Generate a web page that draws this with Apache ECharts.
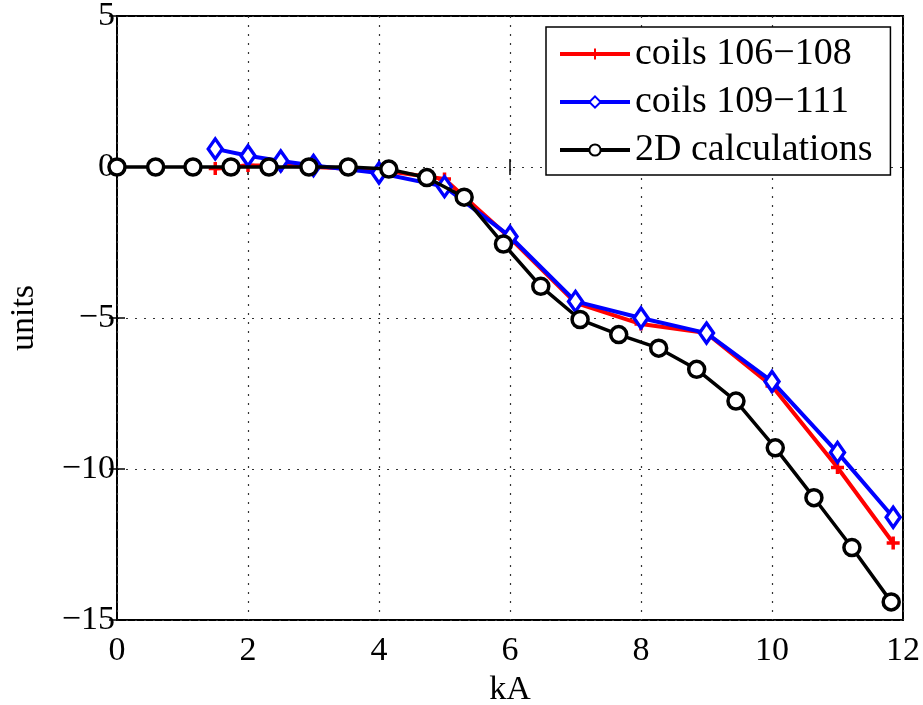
<!DOCTYPE html>
<html>
<head>
<meta charset="utf-8">
<script src="https://cdn.jsdelivr.net/npm/echarts@6/dist/echarts.min.js"></script>
<style>
  html, body { margin: 0; padding: 0; background: #fff; }
  #chart { width: 923px; height: 705px; }
</style>
</head>
<body>
<div id="chart"></div>
<script>
// values
const calcX = [0, 0.59, 1.16, 1.74, 2.32, 2.93, 3.53, 4.15, 4.73, 5.3, 5.9, 6.47, 7.07, 7.66, 8.27, 8.85, 9.45, 10.05, 10.64, 11.22, 11.82]
const calcY = [0, 0, 0, 0, 0, 0, 0, -0.07, -0.35, -1.0, -2.55, -3.95, -5.05, -5.55, -6.0, -6.7, -7.75, -9.3, -10.95, -12.6, -14.4]

const coilsAX = [1.5, 2, 2.5, 3, 4, 5, 6, 7, 8, 9, 10, 11, 11.85]
const coilsAY = [-0.05, 0.05, 0.05, 0, -0.1, -0.4, -2.35, -4.5, -5.2, -5.5, -7.25, -9.95, -12.45]

const coilsBX = [1.5, 2, 2.5, 3, 4, 5, 6, 7, 8, 9, 10, 11, 11.85]
const coilsBY = [0.6, 0.37, 0.2, 0.05, -0.2, -0.65, -2.3, -4.45, -5.0, -5.5, -7.1, -9.45, -11.6]

const seriesNames = ['coils 106\u2212108', 'coils 109\u2212111', '2D calculations']

const pairs = (xs, ys) => xs.map((x, i) => [x, ys[i]])
const minus = v => String(v).replace('-', '\u2212')
const font = 'Liberation Serif'
const tick = { inside: true, length: 8, lineStyle: { color: '#000', width: 1.5 } }
const grid = { show: true, lineStyle: { color: '#333', type: [2, 7], width: 1.2 } }

const chart = echarts.init(document.getElementById('chart'))
chart.setOption({
  animation: false,
  backgroundColor: '#fff',
  grid: {
    left: 117, right: 20, top: 16, bottom: 85,
    outerBoundsMode: 'none',
    show: true, borderColor: '#000', borderWidth: 2
  },
  legend: {
    orient: 'vertical',
    left: 546, top: 27,
    padding: [8, 18, 6, 12],
    itemGap: 10,
    itemWidth: 70, itemHeight: 14,
    backgroundColor: '#fff',
    borderColor: '#000', borderWidth: 1.5,
    textStyle: { fontFamily: font, fontSize: 38, color: '#000' },
    lineStyle: { width: 4 },
    data: seriesNames
  },
  xAxis: [
    {
      type: 'value', min: 0, max: 12, interval: 2,
      name: 'kA', nameLocation: 'middle', nameGap: 50,
      nameTextStyle: { fontFamily: font, fontSize: 34, color: '#000' },
      axisLine: { show: false },
      axisTick: tick,
      axisLabel: { fontFamily: font, fontSize: 34, color: '#000', margin: 14 },
      splitLine: grid
    },
    {
      type: 'value', min: 0, max: 12, interval: 2, position: 'top',
      axisLine: { show: false }, axisTick: tick,
      axisLabel: { show: false }, splitLine: { show: false }
    }
  ],
  yAxis: [
    {
      type: 'value', min: -15, max: 5, interval: 5,
      name: 'units', nameLocation: 'middle', nameGap: 76, nameRotate: 90,
      nameTextStyle: { fontFamily: font, fontSize: 34, color: '#000' },
      axisLine: { show: false },
      axisTick: tick,
      axisLabel: { fontFamily: font, fontSize: 34, color: '#000', margin: 2, formatter: minus },
      splitLine: grid
    },
    {
      type: 'value', min: -15, max: 5, interval: 5, position: 'right',
      axisLine: { show: false }, axisTick: tick,
      axisLabel: { show: false }, splitLine: { show: false }
    }
  ],
  series: [
    {
      name: seriesNames[0], type: 'line', data: pairs(coilsAX, coilsAY),
      lineStyle: { color: '#ff0000', width: 4 },
      itemStyle: { color: '#ff0000', borderColor: '#ff0000', borderWidth: 3.5 },
      symbol: 'path://M5,0L5,10M0,5L10,5', symbolSize: 13, z: 2
    },
    {
      name: seriesNames[1], type: 'line', data: pairs(coilsBX, coilsBY),
      lineStyle: { color: '#0000ff', width: 4 },
      itemStyle: { color: '#fff', borderColor: '#0000ff', borderWidth: 3.5 },
      symbol: 'diamond', symbolSize: [14, 20], z: 3
    },
    {
      name: seriesNames[2], type: 'line', data: pairs(calcX, calcY),
      lineStyle: { color: '#000', width: 3.5 },
      itemStyle: { color: '#fff', borderColor: '#000', borderWidth: 3.5 },
      symbol: 'circle', symbolSize: 16, z: 4
    }
  ]
})
</script>
</body>
</html>
